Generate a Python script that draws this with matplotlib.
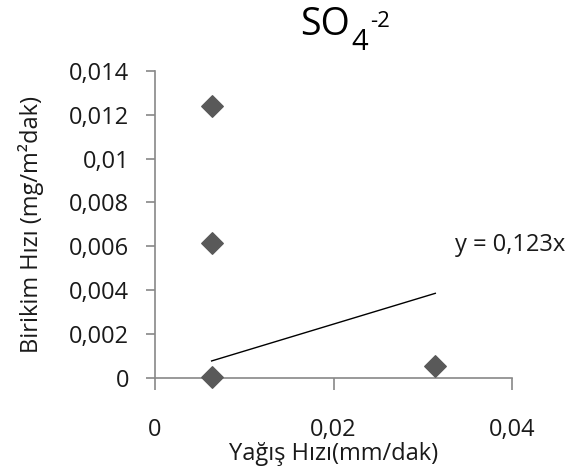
import matplotlib.pyplot as plt
import numpy as np

# rainfall rate vs. deposition rate for sulphate
yagis_hizi = [0.00635, 0.00635, 0.00635, 0.0314]
birikim_hizi = [0.01239, 0.00616, 0.00006, 0.00056]
egim = 0.123

x_ticks = [0, 0.02, 0.04]
x_labels = ['0', '0,02', '0,04']
y_ticks = [0, 0.002, 0.004, 0.006, 0.008, 0.010, 0.012, 0.014]
y_labels = ['0', '0,002', '0,004', '0,006', '0,008', '0,01', '0,012', '0,014']

plt.rcParams['font.family'] = ['Open Sans', 'DejaVu Sans']
axis_color = '#888888'
text_color = '#1a1a1a'
fs = 17

fig = plt.figure(figsize=(5.78, 4.75), dpi=100)
ax = fig.add_axes([0.268, 0.204, 0.618, 0.647])

ax.scatter(yagis_hizi, birikim_hizi, marker='D', s=120, color='#595959', zorder=3, clip_on=False)

# linear trend through the origin
xt = np.array([min(yagis_hizi), max(yagis_hizi)])
ax.plot(xt, egim * xt, color='black', lw=1.0)
ax.text(0.0336, 0.00606, 'y = 0,123x', fontsize=fs, color=text_color, va='center')

ax.set_xlim(0, 0.04)
ax.set_ylim(0, 0.014)
ax.set_xticks(x_ticks)
ax.set_xticklabels(x_labels)
ax.set_yticks(y_ticks)
ax.set_yticklabels(y_labels)
ax.tick_params(axis='both', colors=axis_color, labelcolor=text_color, labelsize=fs, width=1.2)
ax.tick_params(axis='x', length=8.5, pad=20)
ax.tick_params(axis='y', length=6.5, pad=12)

for side in ['top', 'right']:
    ax.spines[side].set_visible(False)
for side in ['left', 'bottom']:
    ax.spines[side].set_color(axis_color)
    ax.spines[side].set_linewidth(1.2)

ax.set_xlabel('Yağış Hızı(mm/dak)', fontsize=fs, color=text_color, labelpad=0)
ax.set_ylabel('Birikim Hızı (mg/m²dak)', fontsize=fs, color=text_color, labelpad=18)

# chemical formula title: SO4 with charge
W, H = fig.get_size_inches() * fig.dpi
t_so = fig.text(300 / W, 0.926, 'SO', fontsize=27, ha='left', va='baseline', color='black')
fig.canvas.draw()
x_end = t_so.get_window_extent().x1
t_4 = fig.text((x_end + 2) / W, 0.895, '4', fontsize=21, ha='left', va='baseline', color='black')
fig.canvas.draw()
x_end = t_4.get_window_extent().x1
fig.text((x_end + 2) / W, 0.943, '-2', fontsize=16, ha='left', va='baseline', color='black')

fig.savefig('out.png', dpi=100)
